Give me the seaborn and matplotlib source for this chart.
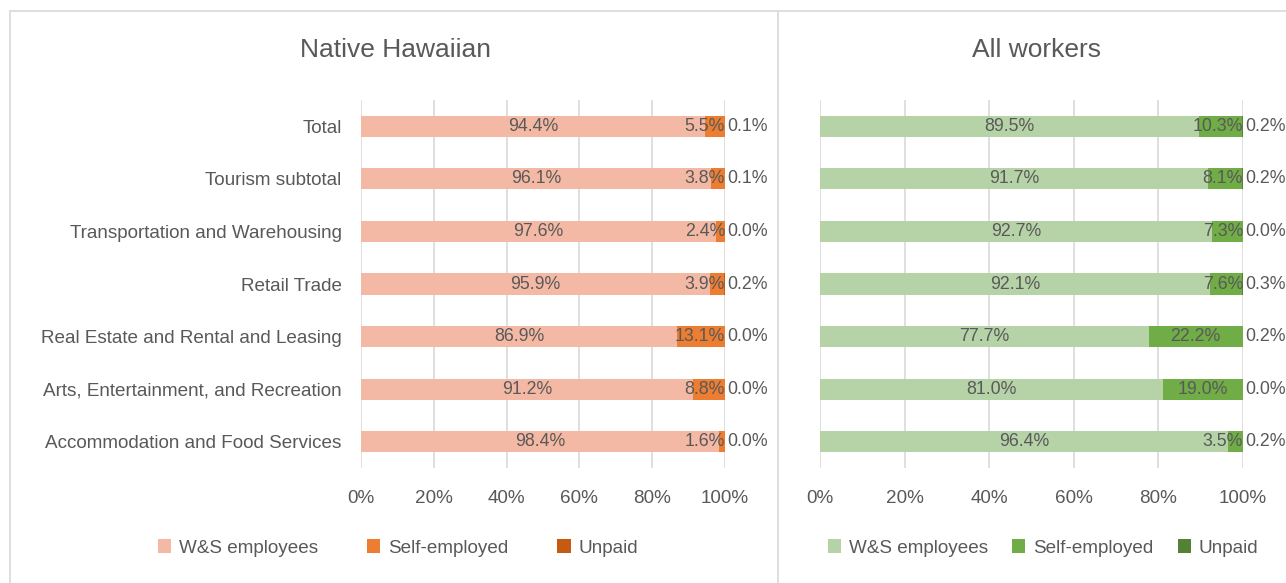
import matplotlib
matplotlib.use("Agg")
import matplotlib.pyplot as plt
import seaborn as sns
import pandas as pd
from matplotlib.lines import Line2D
from matplotlib.patches import Patch

categories = ["Total", "Tourism subtotal", "Transportation and Warehousing", "Retail Trade",
              "Real Estate and Rental and Leasing", "Arts, Entertainment, and Recreation",
              "Accommodation and Food Services"]
series = ["W&S employees", "Self-employed", "Unpaid"]

nh_ws = [94.4, 96.1, 97.6, 95.9, 86.9, 91.2, 98.4]
nh_self = [5.5, 3.8, 2.4, 3.9, 13.1, 8.8, 1.6]
nh_unpaid = [0.1, 0.1, 0.0, 0.2, 0.0, 0.0, 0.0]

all_ws = [89.5, 91.7, 92.7, 92.1, 77.7, 81.0, 96.4]
all_self = [10.3, 8.1, 7.3, 7.6, 22.2, 19.0, 3.5]
all_unpaid = [0.2, 0.2, 0.0, 0.3, 0.2, 0.0, 0.2]

nh_colors = ["#F4B9A4", "#ED7D31", "#C55A11"]
all_colors = ["#B5D3A7", "#70AD47", "#548235"]

sns.set_theme(style="white")
plt.rcParams["font.family"] = ["Liberation Sans", "DejaVu Sans"]
TXT = "#595959"
GRID = "#D9D9D9"
FS = 13.6
FSD = 12.8

fig = plt.figure(figsize=(12.86, 5.83), dpi=100)
W, H = 1286, 583


def panel(left_px, right_px, title, title_x, leg_x, colsp, ws, se, up, colors, show_y):
    ax = fig.add_axes([left_px / W, 1 - 468 / H, (right_px - left_px) / W, (468 - 100) / H])
    df = pd.DataFrame({"cat": categories, "ws": ws, "se": se, "up": up})
    df["c1"] = df["ws"]
    df["c2"] = df["ws"] + df["se"]
    df["c3"] = df["c2"] + df["up"]
    # draw cumulative bars back to front so they look stacked
    for col, colr in zip(["c3", "c2", "c1"], colors[::-1]):
        sns.barplot(data=df, y="cat", x=col, color=colr, width=0.4, ax=ax,
                    orient="h", saturation=1, linewidth=0, order=categories)
    ax.set_xlim(0, 100)
    ax.set_ylim(6.5, -0.5)
    ax.set_xticks([0, 20, 40, 60, 80, 100])
    ax.set_xticklabels([f"{t}%" for t in range(0, 101, 20)])
    ax.set_xlabel("")
    ax.set_ylabel("")
    for s in ax.spines.values():
        s.set_visible(False)
    ax.grid(axis="x", color=GRID, linewidth=1.2)
    ax.set_axisbelow(True)
    ax.tick_params(axis="x", length=0, pad=16, labelsize=FS, labelcolor=TXT)
    ax.tick_params(axis="y", length=0, pad=14, labelsize=FS, labelcolor=TXT)
    if not show_y:
        ax.set_yticklabels([])

    fig.canvas.draw()
    r = fig.canvas.get_renderer()
    inv = ax.transData.inverted()
    for i in range(len(categories)):
        ax.text(ws[i] / 2, i, f"{ws[i]:.1f}%", ha="center", va="center", fontsize=FSD, color=TXT)
        t = ax.text(ws[i] + se[i] / 2, i, f"{se[i]:.1f}%", ha="center", va="center",
                    fontsize=FSD, color=TXT)
        bb = t.get_window_extent(r)
        x1 = inv.transform((bb.x1, bb.y0))[0]
        if x1 > 100:
            t.set_x(100)
            t.set_ha("right")
        ax.text(100.5, i, f"{up[i]:.1f}%", ha="left", va="center", fontsize=FSD,
                color=TXT, clip_on=False)

    fig.text(title_x / W, 1 - 50 / H, title, ha="center", va="center", fontsize=19, color=TXT)
    handles = [Patch(facecolor=c, edgecolor="none") for c in colors]
    fig.legend(handles, series, loc="center", bbox_to_anchor=(leg_x / W, 1 - 548 / H),
               ncol=3, frameon=False, fontsize=FS, labelcolor=TXT, handlelength=0.7,
               handleheight=0.7, handletextpad=0.4, columnspacing=colsp)
    return ax


panel(361, 725, "Native Hawaiian", 395, 398, 2.6, nh_ws, nh_self, nh_unpaid, nh_colors, True)
panel(820, 1243, "All workers", 1037, 1043, 1.3, all_ws, all_self, all_unpaid, all_colors, False)

# chart frame lines
fig.add_artist(Line2D([10 / W, 10 / W], [0, 1 - 11 / H], color=GRID, lw=1.2))
fig.add_artist(Line2D([10 / W, 1], [1 - 11 / H, 1 - 11 / H], color=GRID, lw=1.2))
fig.add_artist(Line2D([778 / W, 778 / W], [0, 1 - 11 / H], color=GRID, lw=1.2))

fig.savefig("out.png", dpi=100)
